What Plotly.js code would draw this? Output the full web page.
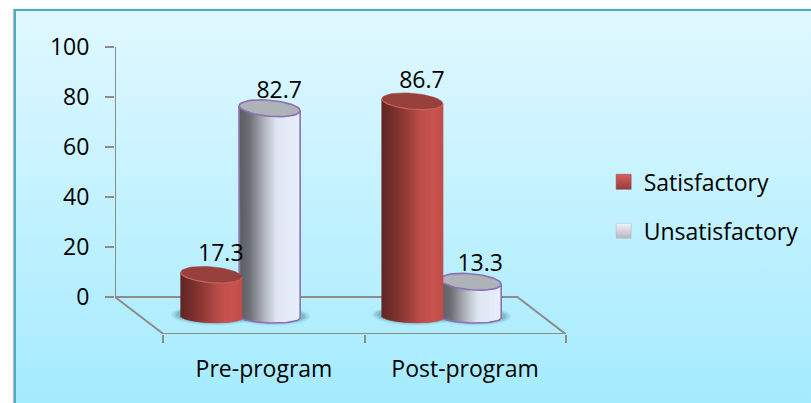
<!DOCTYPE html>
<html>
<head>
<meta charset="utf-8">
<script src="https://cdn.plot.ly/plotly-3.0.1.min.js"></script>
<style>
html,body{margin:0;padding:0;width:811px;height:403px;overflow:hidden;background:#fff}
#card{position:absolute;left:14px;top:9px;right:-6px;bottom:-6px;border:2.5px solid #4bacc6;box-shadow:-1px 0 1px #bbb;background:linear-gradient(#e0f8ff,#a4ebff)}
#chart{position:absolute;left:0;top:0;width:811px;height:403px}
</style>
</head>
<body>
<div id="card"></div>
<div id="chart"></div>
<script>
// ---- chart values ----
var categories = ['Pre-program', 'Post-program'];
var seriesNames = ['Satisfactory', 'Unsatisfactory'];
var satisfactory = [17.3, 86.7];
var unsatisfactory = [82.7, 13.3];
var yTicks = [0, 20, 40, 60, 80, 100];

// ---- perspective look (style only) ----
var UX = 1 / 201, UY = 0.4;            // data units per pixel
var HALF = 30.5 * UX;                  // cylinder half width
var SAT_OFF = -0.262, UNS_OFF = 0.028; // cylinder offset from its category
var DROP_S = 8.4, DROP_U = 7.2;        // cylinder floor below the back wall
var FLOOR = -14.8, XMIN = -0.741, XBACK = 1.26, XMAX = 1.502;
var AXC = '#8c8c8c', AXW = 2;
var FONT = '"Open Sans", sans-serif', FS = 23;
var TOPR = 8 * UY, TILT = 2.5 * UY, BOTY = -8, BOTR = 2.4, BOTTILT = 1 * UY;
var N = 34;

function lerpColor(stops, f) {
  for (var i = 1; i < stops.length; i++) {
    if (f <= stops[i][0]) {
      var a = stops[i - 1], b = stops[i], k = (f - a[0]) / (b[0] - a[0]);
      return 'rgb(' + [1, 2, 3].map(function (j) { return Math.round(a[j] + (b[j] - a[j]) * k); }).join(',') + ')';
    }
  }
  var l = stops[stops.length - 1];
  return 'rgb(' + l[1] + ',' + l[2] + ',' + l[3] + ')';
}
var redStops = [[0, 96, 38, 34], [0.25, 125, 50, 46], [0.65, 190, 78, 74], [0.85, 200, 83, 79], [1, 192, 78, 74]];
var whiteStops = [[0, 88, 91, 96], [0.18, 108, 111, 116], [0.42, 176, 180, 188], [0.62, 222, 230, 242], [1, 230, 240, 252]];

function bodyTrace(c, top, stops, ax, ay) {
  var xs = [], base = [], h = [], col = [], w = [];
  for (var i = 0; i < N; i++) {
    var t = -1 + (2 * i + 1) / N;
    var b = BOTY - BOTTILT * t - BOTR * Math.sqrt(1 - t * t);
    xs.push(c + t * HALF);
    base.push(b);
    h.push(top - TILT * t - b);
    col.push(lerpColor(stops, (t + 1) / 2));
    w.push(2 * HALF / N * 1.5);
  }
  return {type: 'bar', x: xs, y: h, base: base, width: w, xaxis: ax, yaxis: ay, showlegend: false, hoverinfo: 'skip',
          marker: {color: col, line: {width: 0}}};
}
function ellipsePts(c, y0, rx, ry, tilt, from, to) {
  var xs = [], ys = [];
  for (var i = 0; i <= 48; i++) {
    var a = from + (to - from) * i / 48;
    var t = Math.cos(a);
    xs.push(c + rx * t);
    ys.push(y0 - tilt * t + ry * Math.sin(a));
  }
  return {x: xs, y: ys};
}
function topTrace(c, top, fill, lineCol, lw, ax, ay) {
  var p = ellipsePts(c, top, HALF, TOPR, TILT, 0, 2 * Math.PI);
  return {type: 'scatter', mode: 'lines', x: p.x, y: p.y, fill: 'toself', fillcolor: fill,
          line: {color: lineCol, width: lw}, xaxis: ax, yaxis: ay, showlegend: false, hoverinfo: 'skip'};
}
function rimTrace(c, top, col, lw, ax, ay) {
  var p = ellipsePts(c, top, HALF, TOPR, TILT, Math.PI, 2 * Math.PI);
  return {type: 'scatter', mode: 'lines', x: p.x, y: p.y, line: {color: col, width: lw}, xaxis: ax, yaxis: ay, showlegend: false, hoverinfo: 'skip'};
}
function outlineTrace(c, top, col, ax, ay) {
  var p = ellipsePts(c, BOTY, HALF, BOTR, BOTTILT, Math.PI, 2 * Math.PI);
  var xs = [c - HALF].concat(p.x, [c + HALF]);
  var ys = [top + TILT].concat(p.y, [top - TILT]);
  return {type: 'scatter', mode: 'lines', x: xs, y: ys, line: {color: col, width: 1.6}, xaxis: ax, yaxis: ay, showlegend: false, hoverinfo: 'skip'};
}
function shadowTraces(c) {
  var out = [];
  [[10, 1.6, 0.10], [7.5, 1.1, 0.14], [5, 0.7, 0.2]].forEach(function (s) {
    var p = ellipsePts(c, BOTY + 0.6, HALF + s[0] * UX, BOTR + s[1], BOTTILT, 0, 2 * Math.PI);
    out.push({type: 'scatter', mode: 'lines', x: p.x, y: p.y, fill: 'toself', fillcolor: 'rgba(40,105,120,' + s[2] + ')',
              line: {width: 0}, showlegend: false, hoverinfo: 'skip'});
  });
  return out;
}

var traces = [];
// floor and wall axis line
traces.push({type: 'scatter', mode: 'lines', cliponaxis: false, x: [XMIN, XMIN, XMIN + 0.241, XMAX - 0.002, XBACK, XMIN],
             y: [100, 0, FLOOR, FLOOR, 0, 0], line: {color: AXC, width: AXW}, showlegend: false, hoverinfo: 'skip'});
// soft shadows on the floor
categories.forEach(function (_, i) {
  traces = traces.concat(shadowTraces(i + SAT_OFF), shadowTraces(i + UNS_OFF));
});
// Unsatisfactory cylinders (behind)
unsatisfactory.forEach(function (v, i) {
  var c = i + UNS_OFF, top = v - DROP_U;
  traces.push(bodyTrace(c, top, whiteStops, 'x2', 'y2'));
  traces.push(outlineTrace(c, top, '#8d70b2', 'x2', 'y2'));
  traces.push(topTrace(c, top, '#adb3b9', '#8d70b2', 1.6, 'x2', 'y2'));
});
// Satisfactory cylinders (in front)
satisfactory.forEach(function (v, i) {
  var c = i + SAT_OFF, top = v - DROP_S;
  traces.push(bodyTrace(c, top, redStops, 'x3', 'y3'));
  traces.push(topTrace(c, top, '#98403c', '#98403c', 0.5, 'x3', 'y3'));
  traces.push(rimTrace(c, top, '#c9605b', 1.2, 'x3', 'y3'));
});
// value labels
var labelX = [], labelY = [], labelT = [];
categories.forEach(function (_, i) {
  labelX.push(i + SAT_OFF + 9.5 * UX, i + UNS_OFF + 9.5 * UX);
  labelY.push(satisfactory[i] - 0.7, unsatisfactory[i] - 0.7);
  labelT.push(String(satisfactory[i]), String(unsatisfactory[i]));
});
traces.push({type: 'scatter', mode: 'text', x: labelX, y: labelY, text: labelT, textposition: 'middle center', cliponaxis: false,
             textfont: {family: FONT, size: FS, color: '#000'}, xaxis: 'x3', yaxis: 'y3', showlegend: false, hoverinfo: 'skip'});
// legend entries
traces.push({type: 'scatter', mode: 'markers', name: seriesNames[0], x: [null], y: [null], legendgroup: 'a',
             marker: {symbol: 'square', size: 15, color: '#d8605c', gradient: {type: 'vertical', color: '#953c39'}, line: {width: 0.5, color: '#8f3a38'}}});
traces.push({type: 'scatter', mode: 'markers', name: seriesNames[1], x: [null], y: [null], legendgroup: 'b',
             marker: {symbol: 'square', size: 15, color: '#f2f4f8', gradient: {type: 'vertical', color: '#b4b8c2'}, line: {width: 0.5, color: '#aeb2bb'}}});

var hiddenX = function () { return {range: [XMIN, XMAX], visible: false, overlaying: 'x', fixedrange: true}; };
var hiddenY = function () { return {range: [FLOOR, 100], visible: false, overlaying: 'y', fixedrange: true}; };

var layout = {
  width: 811, height: 403,
  margin: {l: 115, r: 245, t: 47, b: 69, pad: 0, autoexpand: false},
  paper_bgcolor: 'rgba(0,0,0,0)',
  plot_bgcolor: 'rgba(0,0,0,0)',
  barmode: 'overlay',
  font: {family: FONT, size: FS, color: '#000'},
  hovermode: false,
  xaxis: {
    range: [XMIN, XMAX], zeroline: false, showgrid: false, showline: false,
    tickmode: 'array', tickvals: [0, 1], ticktext: categories, ticks: '', ticklabelstandoff: 19,
    tickfont: {family: FONT, size: FS, color: '#000'},
    minor: {tickmode: 'array', tickvals: [-0.5, 0.5, 1.5], ticks: 'outside', ticklen: 8, tickwidth: AXW, tickcolor: AXC, showgrid: false},
    fixedrange: true
  },
  yaxis: {
    range: [FLOOR, 100], zeroline: false, showgrid: false, showline: false,
    tickmode: 'array', tickvals: yTicks, ticks: 'outside', ticklen: 9, tickwidth: AXW, tickcolor: AXC, ticklabelstandoff: 11,
    tickfont: {family: FONT, size: FS, color: '#000'},
    fixedrange: true
  },
  xaxis2: hiddenX(), yaxis2: hiddenY(), xaxis3: hiddenX(), yaxis3: hiddenY(),
  showlegend: true,
  legend: {x: 1.0835, xanchor: 'left', y: 0.605, yanchor: 'top', tracegroupgap: 16, bgcolor: 'rgba(0,0,0,0)', font: {family: FONT, size: FS, color: '#000'}, itemclick: false, itemdoubleclick: false}
};
Plotly.newPlot('chart', traces, layout, {displayModeBar: false, staticPlot: true});
</script>
</body>
</html>
